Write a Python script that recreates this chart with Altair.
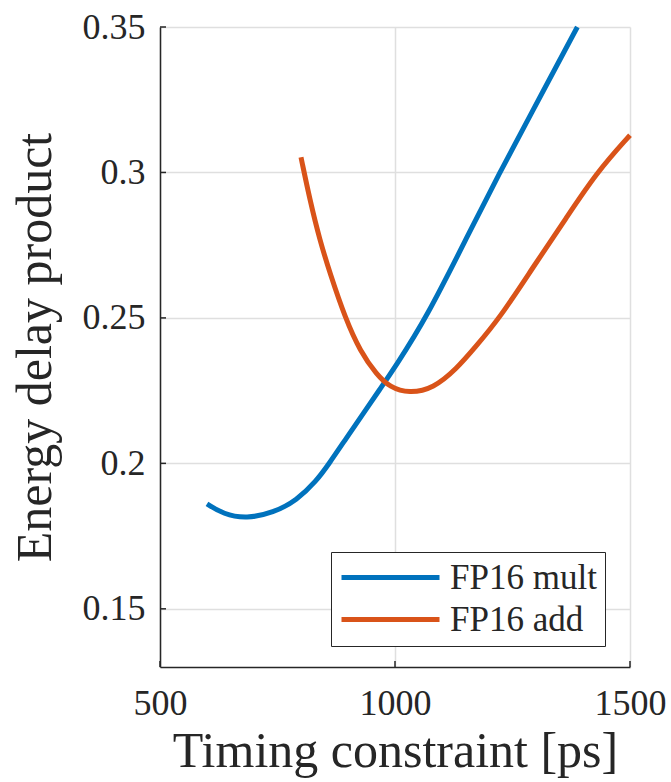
import altair as alt
import pandas as pd

# FP16 mult curve
mult_x = [600, 635, 684, 741, 791, 833, 858, 897, 936, 968, 1000, 1067, 1160, 1223, 1284, 1388]
mult_y = [0.1861, 0.1825, 0.1810, 0.1830, 0.1873, 0.1940, 0.1995, 0.2088, 0.2180, 0.2255,
          0.2331, 0.2500, 0.2800, 0.3000, 0.3185, 0.3500]
# FP16 add curve
add_x = [800, 819, 840, 862, 894, 926, 961, 989, 1030, 1082, 1131, 1170, 1223, 1294, 1365, 1429, 1500]
add_y = [0.3052, 0.2905, 0.2767, 0.2652, 0.2500, 0.2385, 0.2305, 0.2262, 0.2240, 0.2258,
         0.2325, 0.2398, 0.2500, 0.2675, 0.2845, 0.3000, 0.3128]

series_names = ["FP16 mult", "FP16 add"]
series_colors = ["#0072BD", "#D95319"]
x_ticks = [500, 1000, 1500]
y_ticks = [0.15, 0.2, 0.25, 0.3, 0.35]

FONT = "Liberation Serif"
TXT = "#262626"

df = pd.concat([
    pd.DataFrame({"t": mult_x, "edp": mult_y, "series": series_names[0], "order": range(len(mult_x))}),
    pd.DataFrame({"t": add_x, "edp": add_y, "series": series_names[1], "order": range(len(add_x))}),
])

xscale = alt.Scale(domain=[500, 1500], nice=False, zero=False)
yscale = alt.Scale(domain=[0.13, 0.35], nice=False, zero=False)

lines = alt.Chart(df).mark_line(strokeWidth=5, interpolate="basis", strokeCap="butt").encode(
    x=alt.X("t:Q", scale=xscale,
            axis=alt.Axis(values=x_ticks, format="d", title="Timing constraint [ps]",
                          labelBaseline="alphabetic", labelPadding=47, tickSize=0, ticks=False,
                          labelFlush=False, labelOverlap=False,
                          titleX=235, titleY=99, titleAlign="center", titleBaseline="alphabetic")),
    y=alt.Y("edp:Q", scale=yscale,
            axis=alt.Axis(values=y_ticks, format=".2~f", title="Energy delay product",
                          labelPadding=15, tickSize=0, ticks=False,
                          labelFlush=False, labelOverlap=False,
                          titleAngle=270, titleX=-110, titleY=320, titleAlign="center",
                          titleBaseline="alphabetic")),
    color=alt.Color("series:N",
                    scale=alt.Scale(domain=series_names, range=series_colors),
                    legend=alt.Legend(title=None, orient="none", legendX=171, legendY=525,
                                      direction="vertical", symbolType="stroke",
                                      symbolSize=9604, symbolStrokeWidth=5,
                                      labelFontSize=35, labelFont=FONT, labelColor=TXT,
                                      padding=8, strokeColor=TXT, fillColor="white",
                                      clipHeight=35, rowPadding=6, labelOffset=8)),
    order="order:Q",
)

xt = alt.Chart(pd.DataFrame({"v": x_ticks})).mark_rule(color=TXT, strokeWidth=1.5).encode(
    x=alt.X("v:Q", scale=xscale), y=alt.value(640), y2=alt.value(634))
yt = alt.Chart(pd.DataFrame({"v": y_ticks})).mark_rule(color=TXT, strokeWidth=1.5).encode(
    y=alt.Y("v:Q", scale=yscale), x=alt.value(0), x2=alt.value(6))

chart = alt.layer(lines, xt, yt).properties(
    width=470, height=640,
    background="white",
    autosize=alt.AutoSizeParams(type="none"),
    padding={"left": 160, "top": 27, "right": 41, "bottom": 115},
).configure_view(stroke=None).configure_axis(
    grid=True, gridColor="#dfdfdf", gridWidth=1.5,
    domainColor=TXT, domainWidth=1.5,
    labelFont=FONT, labelFontSize=36, labelColor=TXT,
    titleFont=FONT, titleFontSize=50, titleColor=TXT, titleFontWeight="normal",
)

chart.save("out.html", embed_options={"renderer": "svg", "actions": False})
